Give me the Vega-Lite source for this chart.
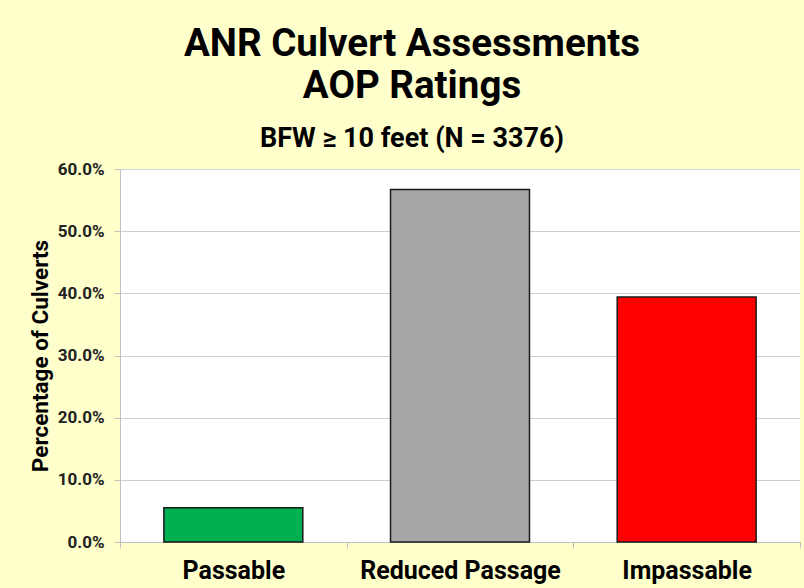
{
  "$schema": "https://vega.github.io/schema/vega-lite/v6.json",
  "width": 680,
  "height": 373,
  "autosize": {"type": "none"},
  "padding": {"left": 120, "top": 169, "right": 4, "bottom": 46},
  "background": "#FFFFCC",
  "title": {
    "text": ["ANR Culvert Assessments", "AOP Ratings"],
    "subtitle": "BFW ≥ 10 feet (N = 3376)",
    "anchor": "middle",
    "frame": "group",
    "dx": -48,
    "font": "Roboto",
    "fontSize": 38.5,
    "fontWeight": "bold",
    "lineHeight": 42,
    "color": "#000000",
    "subtitleFont": "Roboto",
    "subtitleFontSize": 27,
    "subtitleFontWeight": "bold",
    "subtitleColor": "#000000",
    "subtitlePadding": 20,
    "offset": 7
  },
  "data": {
    "values": [
      {"rating": "Passable", "pct": 0.055},
      {"rating": "Reduced Passage", "pct": 0.567},
      {"rating": "Impassable", "pct": 0.394}
    ]
  },
  "mark": {"type": "bar", "width": {"band": 0.613}, "stroke": "#1a1a1a", "strokeWidth": 1.5},
  "encoding": {
    "x": {
      "field": "rating",
      "type": "nominal",
      "sort": ["Passable", "Reduced Passage", "Impassable"],
      "scale": {"paddingInner": 0, "paddingOuter": 0},
      "axis": {
        "title": null,
        "labelAngle": 0,
        "tickBand": "extent",
        "labelLimit": 0,
        "labelOverlap": false,
        "labelFont": "Roboto",
        "labelFontSize": 25,
        "labelFontWeight": "bold",
        "labelColor": "#000000",
        "labelPadding": 10,
        "tickSize": 6,
        "tickColor": "#BFBFBF",
        "domainColor": "#BFBFBF",
        "grid": false
      }
    },
    "y": {
      "field": "pct",
      "type": "quantitative",
      "scale": {"domain": [0, 0.6], "nice": false},
      "axis": {
        "title": "Percentage of Culverts",
        "format": ".1%",
        "values": [0, 0.1, 0.2, 0.3, 0.4, 0.5, 0.6],
        "labelFont": "Roboto",
        "labelFontSize": 17,
        "labelFontWeight": "bold",
        "labelColor": "#222222",
        "labelPadding": 10,
        "tickSize": 6,
        "tickColor": "#BFBFBF",
        "domainColor": "#BFBFBF",
        "gridColor": "#CFCFCF",
        "titleFont": "Roboto",
        "titleFontSize": 22.5,
        "titleFontWeight": "bold",
        "titleColor": "#000000",
        "titlePadding": 5
      }
    },
    "color": {
      "field": "rating",
      "type": "nominal",
      "scale": {
        "domain": ["Passable", "Reduced Passage", "Impassable"],
        "range": ["#00B050", "#A6A6A6", "#FF0000"]
      },
      "legend": null
    }
  },
  "config": {
    "view": {"fill": "#FFFFFF", "stroke": null}
  }
}
